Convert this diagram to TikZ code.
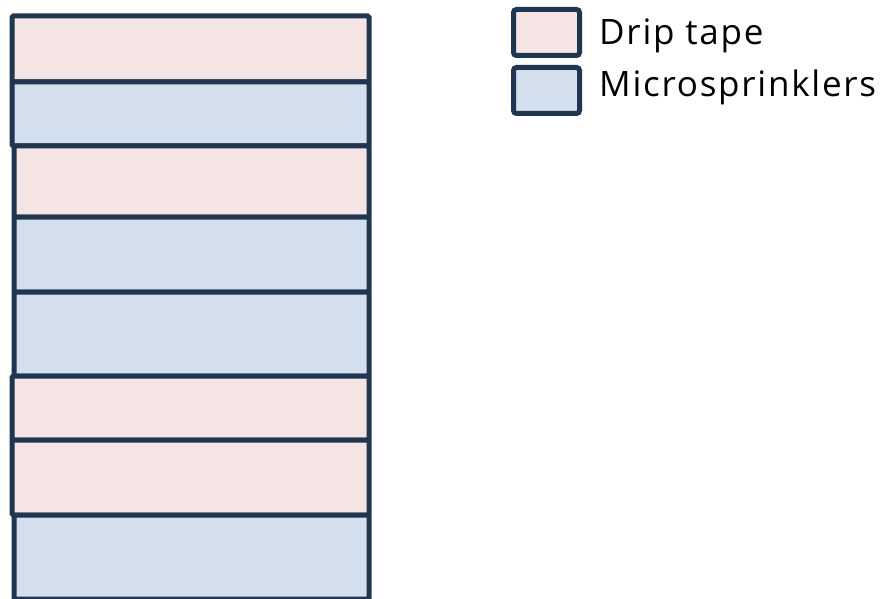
\documentclass[tikz,border=0pt]{standalone}
\usepackage{fontspec}
\setmainfont{Open Sans}[LetterSpace=5]
\definecolor{edge}{HTML}{203650}
\definecolor{drip}{HTML}{F4E4E4}
\definecolor{micro}{HTML}{D4DFEE}
\begin{document}
\begin{tikzpicture}[x=1pt,y=-1pt,
  strip/.style={draw=edge, line width=5pt, rounded corners=1.5pt, anchor=north west, inner sep=0pt, outer sep=0pt},
  key/.style={draw=edge, line width=5pt, rounded corners=3pt, anchor=north west, inner sep=0pt, minimum width=66pt, minimum height=46pt},
  label/.style={anchor=base west, inner sep=0pt, font=\fontsize{35}{41}\selectfont}]
\useasboundingbox (0,0) rectangle (886,599);
% field strips, top to bottom
\node[strip, fill=drip,  minimum width=357pt, minimum height=66pt] (s1) at (12,16) {};
\node[strip, fill=micro, minimum width=357pt, minimum height=64pt] (s2) at (12,82) {};
\node[strip, fill=drip,  minimum width=355pt, minimum height=71pt] (s3) at (14,146) {};
\node[strip, fill=micro, minimum width=355pt, minimum height=75pt] (s4) at (14,217) {};
\node[strip, fill=micro, minimum width=355pt, minimum height=84pt] (s5) at (14,292) {};
\node[strip, fill=drip,  minimum width=357pt, minimum height=64pt] (s6) at (12,376) {};
\node[strip, fill=drip,  minimum width=357pt, minimum height=75pt] (s7) at (12,440) {};
\node[strip, fill=micro, minimum width=355pt, minimum height=84pt] (s8) at (14,515) {};
% legend
\node[key, fill=drip]  (k1) at (511,7) {};
\node[key, fill=micro] (k2) at (511,65) {};
\node[label] (t1) at (599,45) {Drip tape};
\node[label] (t2) at (599,97) {Microsprinklers};
\end{tikzpicture}
\end{document}
